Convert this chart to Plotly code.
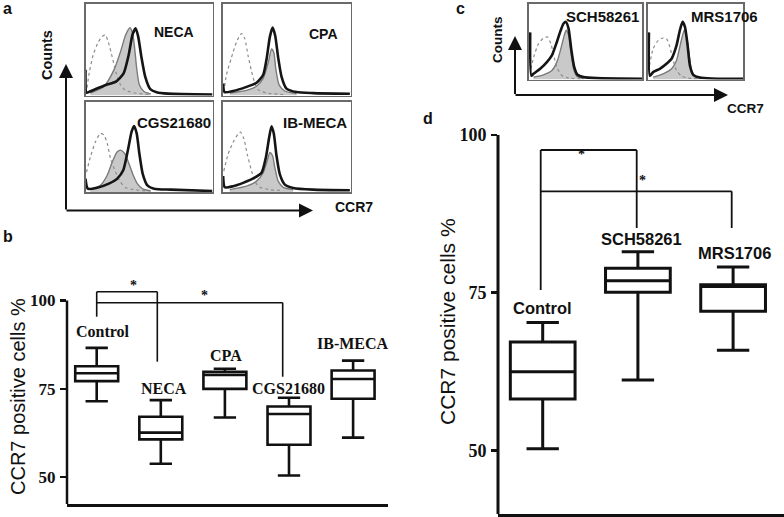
import plotly.graph_objects as go

W, H = 784, 517

# ---------------- data ----------------
# flow histograms: (x %, y %) of each box
NECA_ISO = [(0.5,2),(3,25),(6,44),(10,58),(13,64),(15.5,66),(18,58),(21,42),(24,25),(27,13),(31,6),(38,3),(50,1)]
NECA_TRT = [(3.9,2.5),(14.5,9.7),(22.4,27.8),(27.6,47.7),(31.6,65.7),(35,73.6),(37.1,67.5),(38.7,51.3),(40.3,29.6),(42.4,11.6),(46,4.3),(51.3,1.8)]
NECA_CTL = [(0,28),(0.8,3),(3,4),(8,7),(16,11.5),(24,15),(30,24),(34,44),(37,66),(39.5,73),(41.5,64),(44,42),(47,20.6),(51,7),(56,3.6),(65,2),(100,1)]

CPA_ISO = [(1,3.7),(3.1,22.5),(7,41.2),(10.9,58),(14.8,67.4),(17.4,61.8),(20,43),(22.7,26.2),(25.3,13.1),(27.9,6.4),(34.4,2.6),(47.4,1.1)]
CPA_TRT = [(5.7,2.6),(18.8,5.6),(26.6,10.1),(31.8,18.7),(35.7,35.6),(38.3,50.6),(40.1,46.8),(41.7,28.1),(44.3,11.2),(48.7,4.9),(57.8,1.9)]
CPA_CTL = [(0.5,13),(1.6,3.7),(8.3,4.9),(18.8,9.4),(26.6,13.9),(31.8,22.5),(34.4,39.3),(37,63.7),(39.1,73.8),(41.1,65.5),(43.5,41.2),(46.1,20.6),(50,7.5),(57.8,3.7),(70.8,2.6),(99.5,1.9)]

CGS_ISO = [(0.8,22),(3.9,39),(7.9,55.6),(11.8,64.8),(14.5,63),(17.1,53.7),(19.7,37),(23.7,22),(27.6,11),(31.6,4.8),(38.2,2.6),(48.7,1.1)]
CGS_TRT = [(3.9,2.6),(11.8,7.4),(17.1,18.5),(21.1,33.3),(25,44.4),(27.6,46.3),(30.8,42.6),(34.2,31.5),(37.6,18.5),(40.8,9.3),(44.7,3.7),(51.3,1.1)]
CGS_CTL = [(0,14.8),(1.8,3.7),(9.2,4.8),(18.4,9.3),(25,14.8),(29.7,24),(33.4,46.3),(36.3,66.7),(38.2,73),(40.3,64.8),(42.4,42.6),(45,20.4),(48.7,7.4),(53.9,3.7),(67.1,2.6),(100,1.1)]

IBM_ISO = [(1,23.2),(4.4,41.9),(8.3,55),(12.2,64),(14.1,66.3),(16.7,58.8),(19.3,41.9),(22.7,23.2),(26,10.1),(29.2,5.2),(37,2.6),(47.4,1.5)]
IBM_TRT = [(5.7,2.6),(18.8,6.4),(26.6,12),(31.8,21.3),(34.9,34.5),(37,43.8),(39.1,40),(40.9,27),(43.5,12),(47.4,5.2),(55.2,2.6)]
IBM_CTL = [(0.5,17.6),(1.8,5.2),(8.3,6.4),(16.1,10.1),(24,15),(30.5,21.3),(33.9,38.2),(36.5,60.7),(38.3,72.7),(40.1,64.4),(42.2,40),(44.8,19.5),(48.7,8.2),(55.2,4.5),(70.8,2.6),(99.5,1.9)]

SCH_ISO = [(2.1,14.1),(5,31.7),(8.8,47.1),(13.2,54.6),(16.8,55.9),(19.7,47.1),(22.6,29.5),(25.6,14.1),(29.4,5.3),(35.3,1.8),(45.6,0.9)]
SCH_TRT = [(4.4,3.1),(13.2,6.2),(20.6,11.9),(25,22.9),(28.5,40.5),(31.5,58.1),(33.2,64.8),(35.3,58.1),(37.4,36.1),(39.7,14.1),(42.6,4.4),(48.5,1.3)]
SCH_CTL = [(1.5,62),(2.5,5),(4.4,7.5),(10.3,14.1),(16.2,22.9),(20.6,31.7),(25,49.3),(27.9,62.6),(30.9,73.6),(33,75.8),(35.3,67),(37.6,40.5),(40.3,16.3),(43.2,6.2),(48.5,3.1),(60.3,1.8),(100,0.9)]

MRS_ISO = [(2.1,18.5),(5.9,40.5),(11.2,51.5),(16.4,54.6),(19.9,53.7),(23.4,42.7),(26.9,25.1),(30.4,11.9),(35.7,4.4),(42.7,1.8),(53.1,0.9)]
MRS_TRT = [(5.9,3.1),(16.4,7.5),(25.2,14.1),(30.4,25.1),(35,49.3),(38.5,64.8),(41.3,53.7),(43.7,31.7),(46.2,11.9),(49.7,4.4),(56.6,1.3)]
MRS_CTL = [(1.5,62),(2.5,5),(5.9,9.7),(12.9,14.1),(19.9,20.7),(25.2,27.3),(30.4,44.9),(33.9,64.8),(36.7,75.8),(39.2,69.2),(42,44.9),(44.4,18.5),(47.9,6.2),(54.9,2.6),(67.1,1.3),(100,0.9)]

# panel b box plot
B_CATS = ["Control", "NECA", "CPA", "CGS21680", "IB-MECA"]
B_LOW = [71.5, 53.8, 66.9, 50.5, 61.2]
B_Q1 = [77.2, 60.7, 75.0, 59.2, 72.2]
B_MED = [79.4, 62.6, 78.9, 67.9, 77.8]
B_Q3 = [81.4, 67.1, 79.8, 70.0, 80.2]
B_HIGH = [86.6, 71.8, 80.7, 72.5, 83.0]
B_TICKS = [50, 75, 100]

# panel d box plot
D_CATS = ["Control", "SCH58261", "MRS1706"]
D_LOW = [50.3, 61.2, 65.9]
D_Q1 = [58.2, 75.1, 72.1]
D_MED = [62.5, 76.9, 76.0]
D_Q3 = [67.2, 78.9, 76.3]
D_HIGH = [70.3, 81.5, 79.1]
D_TICKS = [50, 75, 100]

# ---------------- helpers ----------------
def px(x):
    return x / W

def py(y):
    return 1 - y / H

SANS = "Liberation Sans, Arial, sans-serif"
SERIF = "Liberation Serif, Times New Roman, serif"

fig = go.Figure()
layout = dict(
    template="none",
    width=W, height=H, margin=dict(l=0, r=0, t=0, b=0),
    paper_bgcolor="white", plot_bgcolor="rgba(0,0,0,0)",
    font=dict(family=SERIF, size=15, color="#111111", weight="bold"),
    showlegend=False, shapes=[], annotations=[],
)

hist_panels = [
    ("NECA", NECA_ISO, NECA_TRT, NECA_CTL, (85.5, 212.5, 3.5, 95.5), (174, 32), 14),
    ("CPA", CPA_ISO, CPA_TRT, CPA_CTL, (222.5, 350.5, 3.5, 95.5), (323, 34), 14),
    ("CGS21680", CGS_ISO, CGS_TRT, CGS_CTL, (85.5, 212.5, 101.5, 192), (174, 123), 15),
    ("IB-MECA", IBM_ISO, IBM_TRT, IBM_CTL, (222.5, 350.5, 101.5, 192), (315, 123), 15),
    ("SCH58261", SCH_ISO, SCH_TRT, SCH_CTL, (528.5, 642, 3.5, 79.5), (602, 16), 15),
    ("MRS1706", MRS_ISO, MRS_TRT, MRS_CTL, (647.5, 743, 3.5, 79.5), (724, 17), 15),
]

for i, (name, iso, trt, ctl, (x0, x1, y0, y1), (lx, ly), fs) in enumerate(hist_panels, start=1):
    xa, ya = f"x{i}", f"y{i}"
    layout[f"xaxis{i}"] = dict(domain=[px(x0), px(x1)], range=[0, 100], anchor=ya,
                               showline=True, mirror=True, linecolor="#6a6a6a", linewidth=1.6,
                               showgrid=False, zeroline=False, showticklabels=False, ticks="")
    layout[f"yaxis{i}"] = dict(domain=[py(y1), py(y0)], range=[0, 100], anchor=xa,
                               showline=True, mirror=True, linecolor="#6a6a6a", linewidth=1.6,
                               showgrid=False, zeroline=False, showticklabels=False, ticks="")
    fig.add_trace(go.Scatter(x=[p[0] for p in trt], y=[p[1] for p in trt], xaxis=xa, yaxis=ya,
                             mode="lines", fill="tozeroy", fillcolor="#c9c9c9",
                             line=dict(color="#7a7a7a", width=1.4, shape="spline", smoothing=0.6),
                             hoverinfo="skip"))
    fig.add_trace(go.Scatter(x=[p[0] for p in iso], y=[p[1] for p in iso], xaxis=xa, yaxis=ya,
                             mode="lines", line=dict(color="#8c8c8c", width=1.2, dash="dot",
                                                     shape="spline", smoothing=0.6),
                             hoverinfo="skip"))
    fig.add_trace(go.Scatter(x=[p[0] for p in ctl], y=[p[1] for p in ctl], xaxis=xa, yaxis=ya,
                             mode="lines", line=dict(color="#151515", width=2.6, shape="spline",
                                                     smoothing=0.6),
                             hoverinfo="skip"))
    layout["annotations"].append(dict(xref="paper", yref="paper", x=px(lx), y=py(ly), text=name,
                                      showarrow=False, xanchor="center", yanchor="middle",
                                      font=dict(family=SANS, size=fs, color="#111", weight="bold")))

# ---------------- panel b ----------------
B_TOP_PX, B_BOT_PX = 280, 504
b_scale = (477.2 - 300.5) / 50.0
def b_val(ypx):
    return 100 - (ypx - 300.5) / b_scale
b_rng = [b_val(B_BOT_PX), b_val(B_TOP_PX)]
b_px_per_cat = 64.1
b_x0 = (67 - 96.7) / b_px_per_cat
b_x1 = (388 - 96.7) / b_px_per_cat

layout["xaxis7"] = dict(domain=[px(67), px(388)], range=[b_x0, b_x1], anchor="y7",
                        showline=True, linecolor="#111", linewidth=2.5, showgrid=False,
                        zeroline=False, showticklabels=False, ticks="")
layout["yaxis7"] = dict(domain=[py(B_BOT_PX), py(B_TOP_PX)], range=b_rng, anchor="x7",
                        showline=False, showgrid=False, zeroline=False,
                        tickmode="array", tickvals=B_TICKS, ticks="outside", ticklen=6,
                        tickwidth=2.5, tickcolor="#111", ticklabelstandoff=1,
                        tickfont=dict(family=SERIF, size=17, color="#111111", weight="bold"))
fig.add_trace(go.Box(x=list(range(len(B_CATS))), q1=B_Q1, median=B_MED, q3=B_Q3,
                     lowerfence=B_LOW, upperfence=B_HIGH, xaxis="x7", yaxis="y7",
                     width=0.67, whiskerwidth=0.52, fillcolor="white",
                     line=dict(color="#111", width=2.6), boxpoints=False, hoverinfo="skip"))
layout["shapes"].append(dict(type="line", xref="paper", yref="y7", x0=px(67), x1=px(67),
                             y0=b_rng[0], y1=100, line=dict(color="#111", width=2.5)))

def bcat(xpx):
    return (xpx - 96.7) / b_px_per_cat

br_line = dict(color="#111", width=1.6)
for (xa0, ya0, xa1, ya1) in [
    (bcat(96.7), b_val(316.7), bcat(96.7), b_val(291.7)),
    (bcat(96.7), b_val(291.7), bcat(157.3), b_val(291.7)),
    (bcat(157.3), b_val(291.7), bcat(157.3), b_val(361.7)),
    (bcat(96.7), b_val(302.7), bcat(282.7), b_val(302.7)),
    (bcat(282.7), b_val(302.7), bcat(282.7), b_val(376.7)),
]:
    layout["shapes"].append(dict(type="line", xref="x7", yref="y7", x0=xa0, y0=ya0, x1=xa1, y1=ya1,
                                 line=br_line))
for (sx, sy) in [(128.3, 285.5), (199.3, 295.5)]:
    layout["annotations"].append(dict(xref="paper", yref="paper", x=px(sx), y=py(sy), text="*",
                                      showarrow=False, font=dict(family=SERIF, size=14, color="#111",
                                                                 weight="bold")))
b_label_pos = [(103.3, 331.7), (164, 388), (225.7, 355), (288.3, 388.3), (353, 343)]
for name, (lx, ly) in zip(B_CATS, b_label_pos):
    layout["annotations"].append(dict(xref="paper", yref="paper", x=px(lx), y=py(ly), text=name,
                                      showarrow=False, xanchor="center", yanchor="middle",
                                      font=dict(family=SERIF, size=16, color="#111", weight="bold")))
layout["annotations"].append(dict(xref="paper", yref="paper", x=px(18), y=py(397),
                                  text="CCR7 positive cells %", textangle=-90, showarrow=False,
                                  xanchor="center", yanchor="middle",
                                  font=dict(family=SANS, size=20, color="#111", weight="normal")))

# ---------------- panel d ----------------
D_TOP_PX, D_BOT_PX = 130, 514
d_scale = (450.7 - 135) / 50.0
def d_val(ypx):
    return 100 - (ypx - 135) / d_scale
d_rng = [d_val(D_BOT_PX), d_val(D_TOP_PX)]
d_px_per_cat = 95.2
def dcat(xpx):
    return (xpx - 542.7) / d_px_per_cat

layout["xaxis8"] = dict(domain=[px(498), px(784)], range=[dcat(498), dcat(784)], anchor="y8",
                        showline=True, linecolor="#111", linewidth=3, showgrid=False,
                        zeroline=False, showticklabels=False, ticks="")
layout["yaxis8"] = dict(domain=[py(D_BOT_PX), py(D_TOP_PX)], range=d_rng, anchor="x8",
                        showline=False, showgrid=False, zeroline=False,
                        tickmode="array", tickvals=D_TICKS, ticks="outside", ticklen=6,
                        tickwidth=2.8, tickcolor="#111", ticklabelstandoff=1,
                        tickfont=dict(family=SERIF, size=18, color="#111111", weight="bold"))
fig.add_trace(go.Box(x=list(range(len(D_CATS))), q1=D_Q1, median=D_MED, q3=D_Q3,
                     lowerfence=D_LOW, upperfence=D_HIGH, xaxis="x8", yaxis="y8",
                     width=0.68, whiskerwidth=0.5, fillcolor="white",
                     line=dict(color="#111", width=3), boxpoints=False, hoverinfo="skip"))
layout["shapes"].append(dict(type="line", xref="paper", yref="y8", x0=px(498), x1=px(498),
                             y0=d_rng[0], y1=100, line=dict(color="#111", width=3)))
for (xa0, ya0, xa1, ya1) in [
    (dcat(540.7), d_val(290), dcat(540.7), d_val(150)),
    (dcat(540.7), d_val(150), dcat(636.7), d_val(150)),
    (dcat(636.7), d_val(150), dcat(636.7), d_val(228)),
    (dcat(540.7), d_val(191.3), dcat(731.7), d_val(191.3)),
    (dcat(731.7), d_val(191.3), dcat(731.7), d_val(228)),
]:
    layout["shapes"].append(dict(type="line", xref="x8", yref="y8", x0=xa0, y0=ya0, x1=xa1, y1=ya1,
                                 line=dict(color="#111", width=1.8)))
for (sx, sy) in [(587, 145), (648, 181)]:
    layout["annotations"].append(dict(xref="paper", yref="paper", x=px(sx), y=py(sy), text="*",
                                      showarrow=False, font=dict(family=SERIF, size=14, color="#111",
                                                                 weight="bold")))
d_label_pos = [(542.7, 308), (641, 238.7), (734, 253)]
for name, (lx, ly) in zip(D_CATS, d_label_pos):
    layout["annotations"].append(dict(xref="paper", yref="paper", x=px(lx), y=py(ly), text=name,
                                      showarrow=False, xanchor="center", yanchor="middle",
                                      font=dict(family=SANS, size=16.5, color="#111", weight="bold")))
layout["annotations"].append(dict(xref="paper", yref="paper", x=px(447), y=py(322),
                                  text="CCR7 positive cells %", textangle=-90, showarrow=False,
                                  xanchor="center", yanchor="middle",
                                  font=dict(family=SANS, size=21, color="#111", weight="normal")))

# ---------------- arrows, axis names, panel letters ----------------
def arrow(tipx, tipy, tailx, taily):
    layout["annotations"].append(dict(xref="paper", yref="paper", x=px(tipx), y=py(tipy),
                                      ax=tailx - tipx, ay=taily - tipy, text="", showarrow=True,
                                      arrowhead=2, arrowsize=1.4, arrowwidth=2, arrowcolor="#111",
                                      standoff=0, startstandoff=0))
arrow(66, 64, 66, 211)
arrow(313, 210.5, 65, 210.5)
arrow(515, 36, 515, 95.5)
arrow(728, 95, 514, 95)

for (txt, x, y, ang, fs) in [
    ("Counts", 47, 55, -90, 14.5), ("CCR7", 354, 207, 0, 14),
    ("Counts", 498, 40, -90, 13.5), ("CCR7", 745, 108, 0, 13.5),
    ("a", 8, 8, 0, 16), ("b", 8, 236, 0, 16), ("c", 460, 8, 0, 16), ("d", 428, 118, 0, 16),
]:
    layout["annotations"].append(dict(xref="paper", yref="paper", x=px(x), y=py(y), text=txt,
                                      textangle=ang, showarrow=False, xanchor="center",
                                      yanchor="middle",
                                      font=dict(family=SANS, size=fs, color="#111", weight="bold")))

fig.update_layout(**layout)
fig.write_html("out.html", config={"displayModeBar": False, "staticPlot": True},
               post_script="document.body.style.margin='0';document.body.style.padding='0';"
                           "document.body.style.overflow='hidden';")
